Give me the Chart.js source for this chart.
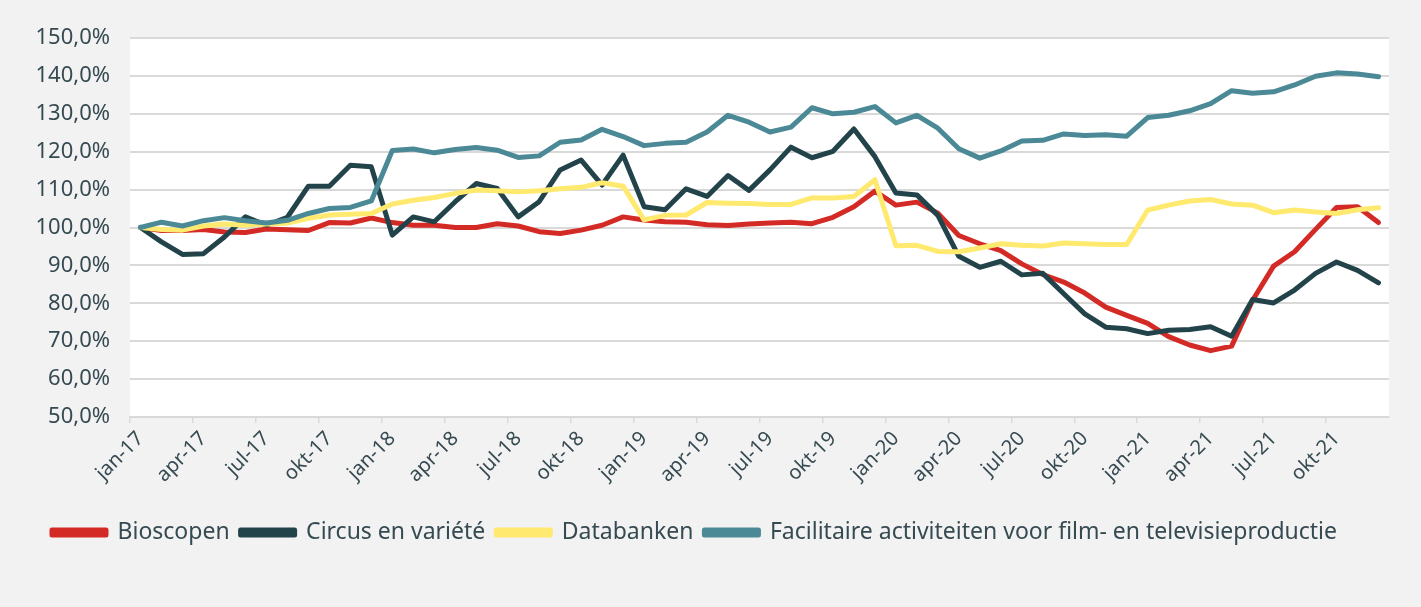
<!DOCTYPE html>
<html>
<head>
<meta charset="utf-8">
<script src="https://cdn.jsdelivr.net/npm/chart.js@4.4.1/dist/chart.umd.min.js"></script>
<style>
  html, body { margin: 0; padding: 0; background: #f2f2f2; }
  #wrap { width: 1421px; height: 607px; }
</style>
</head>
<body>
<div id="wrap"><canvas id="chart" width="1421" height="607"></canvas></div>
<script>
  // maanden jan-17 .. dec-21
  const monthNames = ['jan', 'feb', 'mrt', 'apr', 'mei', 'jun', 'jul', 'aug', 'sep', 'okt', 'nov', 'dec'];
  const years = ['17', '18', '19', '20', '21'];
  const months = [];
  years.forEach(y => monthNames.forEach(m => months.push(m + '-' + y)));

  const seriesNames = ['Bioscopen', 'Circus en variété', 'Databanken', 'Facilitaire activiteiten voor film- en televisieproductie'];

  const bioscopen = [
    100.0, 99.2, 99.2, 99.5, 98.8, 98.7, 99.6, 99.4, 99.2, 101.3, 101.2, 102.5,
    101.3, 100.6, 100.6, 100.0, 100.0, 101.0, 100.4, 98.9, 98.4, 99.3, 100.6, 102.8,
    102.0, 101.5, 101.4, 100.7, 100.5, 100.9, 101.2, 101.4, 101.0, 102.7, 105.5, 109.6,
    105.9, 106.7, 103.8, 97.9, 95.7, 93.9, 90.4, 87.6, 85.6, 82.7, 79.0, 76.8,
    74.7, 71.2, 69.0, 67.5, 68.7, 80.8, 89.8, 93.6, 99.5, 105.3, 105.5, 101.3
  ];
  const circus = [
    100.0, 96.2, 92.9, 93.1, 97.5, 102.8, 100.6, 102.7, 110.9, 110.9, 116.4, 116.0,
    98.0, 102.8, 101.5, 106.8, 111.6, 110.3, 102.8, 106.8, 115.2, 117.8, 111.2, 119.1,
    105.5, 104.7, 110.2, 108.2, 113.7, 109.8, 115.2, 121.2, 118.4, 120.1, 126.0, 118.7,
    109.1, 108.6, 103.2, 92.4, 89.5, 91.1, 87.5, 87.9, 82.5, 77.2, 73.7, 73.3,
    72.0, 72.9, 73.1, 73.8, 71.3, 81.0, 80.1, 83.5, 87.9, 90.9, 88.7, 85.4
  ];
  const databanken = [
    100.0, 99.5, 99.3, 100.4, 100.9, 100.6, 100.9, 101.2, 102.4, 103.3, 103.5, 103.7,
    106.2, 107.2, 107.9, 109.0, 109.9, 109.7, 109.4, 109.7, 110.2, 110.6, 111.8, 110.9,
    102.0, 103.2, 103.3, 106.6, 106.4, 106.3, 106.1, 106.1, 107.8, 107.8, 108.2, 112.6,
    95.2, 95.3, 93.7, 93.6, 94.6, 95.7, 95.3, 95.1, 95.9, 95.7, 95.5, 95.5,
    104.6, 105.9, 107.0, 107.4, 106.2, 105.9, 103.9, 104.6, 104.1, 103.7, 104.7, 105.2
  ];
  const facilitair = [
    100.0, 101.4, 100.4, 101.8, 102.6, 101.8, 101.2, 101.9, 103.7, 105.0, 105.3, 107.0,
    120.3, 120.7, 119.7, 120.6, 121.1, 120.4, 118.5, 118.9, 122.5, 123.1, 125.9, 124.0,
    121.6, 122.2, 122.5, 125.2, 129.6, 127.8, 125.2, 126.5, 131.6, 130.0, 130.4, 131.9,
    127.6, 129.6, 126.2, 120.8, 118.3, 120.2, 122.8, 123.0, 124.7, 124.3, 124.5, 124.1,
    129.0, 129.6, 130.8, 132.7, 136.1, 135.4, 135.8, 137.6, 139.9, 140.8, 140.5, 139.8
  ];

  const colors = ['#d42a26', '#22434a', '#ffe96e', '#4a8995'];
  const textColor = '#364a52';
  const gridColor = '#d9d9d9';
  const fontFamily = '"Noto Sans", "Open Sans", sans-serif';

  // witte achtergrond voor het plotgebied
  const plotBackground = {
    id: 'plotBackground',
    beforeDraw(chart) {
      const { ctx, chartArea } = chart;
      ctx.save();
      ctx.fillStyle = '#ffffff';
      ctx.fillRect(chartArea.left, chartArea.top, chartArea.right - chartArea.left, chartArea.bottom - chartArea.top);
      ctx.restore();
    }
  };

  const allSeries = [bioscopen, circus, databanken, facilitair];

  new Chart(document.getElementById('chart'), {
    type: 'line',
    data: {
      labels: months,
      datasets: allSeries.map((values, i) => ({
        label: seriesNames[i],
        data: values,
        borderColor: colors[i],
        backgroundColor: colors[i],
        borderWidth: 5,
        pointRadius: 0,
        borderJoinStyle: 'round',
        borderCapStyle: 'round',
        tension: 0,
        order: 4 - i
      }))
    },
    options: {
      responsive: false,
      devicePixelRatio: 1,
      animation: false,
      layout: { padding: { left: 0, right: 32, top: 38, bottom: 53 } },
      plugins: {
        legend: {
          position: 'bottom',
          labels: {
            boxWidth: 54,
            boxHeight: 5,
            padding: 11,
            color: textColor,
            font: { family: fontFamily, size: 23 },
            sort: (a, b) => a.datasetIndex - b.datasetIndex
          }
        },
        tooltip: { enabled: false }
      },
      scales: {
        x: {
          offset: true,
          grid: {
            offset: true,
            drawOnChartArea: false,
            tickLength: 6,
            lineWidth: 1.5,
            color: ctx => (ctx.index % 3 === 0 ? gridColor : 'rgba(0,0,0,0)')
          },
          border: { color: gridColor, width: 2 },
          ticks: {
            autoSkip: false,
            maxRotation: 45,
            minRotation: 45,
            padding: 4,
            color: textColor,
            font: { family: fontFamily, size: 20 },
            callback: (v, i) => (i % 3 === 0 ? months[i] : '')
          },
          afterFit: scale => { scale.height = 93; }
        },
        y: {
          min: 50,
          max: 150,
          grid: { color: gridColor, lineWidth: 2, drawTicks: false },
          border: { display: false },
          ticks: {
            stepSize: 10,
            padding: 20,
            color: textColor,
            font: { family: fontFamily, size: 22 },
            callback: v => v.toFixed(1).replace('.', ',') + '%'
          },
          afterFit: scale => { scale.width = 130; }
        }
      }
    },
    plugins: [plotBackground]
  });
</script>
</body>
</html>
